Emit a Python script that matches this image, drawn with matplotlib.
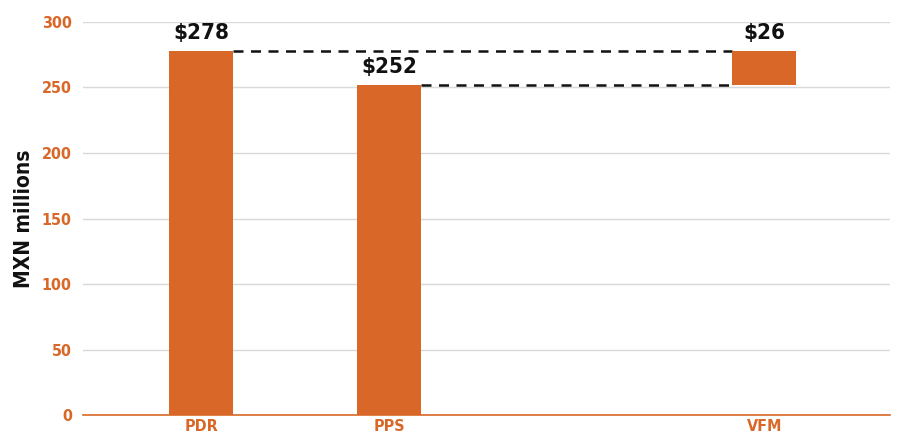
import matplotlib
matplotlib.use("Agg")
import matplotlib.pyplot as plt

# datos
categorias = ["PDR", "PPS", "VFM"]
posiciones = [0, 1, 3]
pdr = 278
pps = 252
vfm = pdr - pps
etiquetas = ["$278", "$252", "$26"]

naranja = "#D96828"
fuente = dict(family="DejaVu Sans", stretch="condensed", weight="bold")

fig = plt.figure(figsize=(9.04, 4.37), dpi=100)
ax = fig.add_axes([0.0918, 0.0503, 0.8927, 0.8994])

ancho = 0.34
ax.bar(posiciones[0], pdr, width=ancho, color=naranja, zorder=3)
ax.bar(posiciones[1], pps, width=ancho, color=naranja, zorder=3)
ax.bar(posiciones[2], vfm, bottom=pps, width=ancho, color=naranja, zorder=3)

# lineas punteadas de conexion
ax.plot([posiciones[0] + ancho / 2, posiciones[2] - ancho / 2], [pdr, pdr],
        ls=(0, (4, 3)), color="#111111", lw=1.8, zorder=2)
ax.plot([posiciones[1] + ancho / 2, posiciones[2] - ancho / 2], [pps, pps],
        ls=(0, (4, 3)), color="#111111", lw=1.8, zorder=2)

# etiquetas de valores
tops = [pdr, pps, pdr]
for x, y, t in zip(posiciones, tops, etiquetas):
    ax.text(x, y + 6, t, ha="center", va="bottom", fontsize=16,
            color="#111111", **fuente)

ax.set_xlim(-0.63, 3.67)
ax.set_ylim(0, 300)
ax.set_yticks(range(0, 301, 50))
ax.set_xticks(posiciones)
ax.set_xticklabels(categorias)
ax.grid(axis="y", color="#d9d9d9", lw=1, zorder=0)

for s in ["top", "right", "left"]:
    ax.spines[s].set_visible(False)
ax.spines["bottom"].set_color(naranja)
ax.spines["bottom"].set_linewidth(1.2)
ax.tick_params(axis="y", length=0, pad=8)
ax.tick_params(axis="x", length=0, pad=3)
for lab in ax.get_xticklabels() + ax.get_yticklabels():
    lab.set_color(naranja)
    lab.set_fontsize(11.5)
    lab.set_fontfamily("DejaVu Sans")
    lab.set_fontstretch("condensed")
    lab.set_fontweight("bold")

ax.set_ylabel("MXN millions", fontsize=15, color="#111111", labelpad=6, **fuente)

fig.savefig("out.png", dpi=100)
